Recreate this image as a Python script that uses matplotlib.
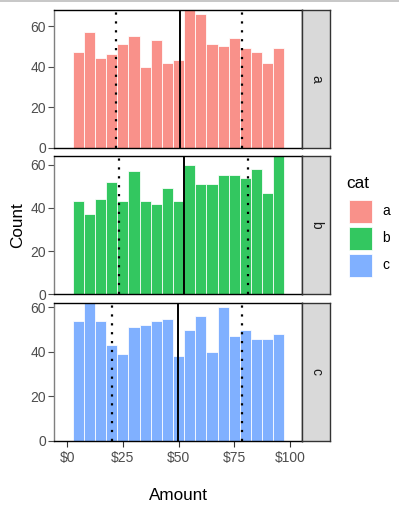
import matplotlib
matplotlib.use("Agg")
import matplotlib.pyplot as plt
from matplotlib.patches import Rectangle
from matplotlib.lines import Line2D

plt.rcParams['font.family'] = ['Liberation Sans', 'DejaVu Sans']
plt.rcParams['text.parse_math'] = False

# histogram bins (centres) and counts per category
bin_centers = [5, 10, 15, 20, 25, 30, 35, 40, 45, 50, 55, 60, 65, 70, 75, 80, 85, 90, 95]
cats = ['a', 'b', 'c']
counts_a = [47, 57, 44, 46, 51, 55, 40, 53, 42, 43, 68, 66, 51, 50, 54, 49, 47, 42, 49]
counts_b = [43, 37, 44, 52, 43, 57, 43, 42, 49, 43, 60, 51, 51, 55, 55, 54, 58, 47, 64]
counts_c = [54, 62, 54, 43, 39, 51, 52, 54, 55, 38, 50, 56, 40, 60, 47, 50, 46, 46, 48]

# reference lines: lower dotted, solid centre, upper dotted
low_lines = [21.9, 23.4, 20.2]
mid_lines = [50.6, 52.5, 49.6]
high_lines = [78.6, 81.3, 78.6]

x_ticks = [0, 25, 50, 75, 100]
x_labels = ['$0', '$25', '$50', '$75', '$100']
y_ticks = [0, 20, 40, 60]

colors = ['#F8766D', '#00BA38', '#619CFF']
all_counts = [counts_a, counts_b, counts_c]

W, H = 399, 512
fig = plt.figure(figsize=(W / 100, H / 100), dpi=100)

# thin grey line along the top edge
fig.add_artist(Line2D([0, 1], [1 - 1.2 / H, 1 - 1.2 / H], color='#BDBDBD', lw=1.2))

left, right = 54.3, 302.3
strip_r = 330.0
panel_tops = [9.8, 156.0, 303.0]
panel_bottoms = [147.7, 294.3, 441.0]

for i, cat in enumerate(cats):
    top, bot = panel_tops[i], panel_bottoms[i]
    ax = fig.add_axes([left / W, 1 - bot / H, (right - left) / W, (bot - top) / H])
    ax.bar(bin_centers, all_counts[i], width=5, color=colors[i], alpha=0.8,
           edgecolor='white', linewidth=0.7, zorder=2)
    ax.axvline(low_lines[i], color='black', lw=1.6, linestyle=(0, (1, 3)), zorder=3)
    ax.axvline(mid_lines[i], color='black', lw=1.4, zorder=3)
    ax.axvline(high_lines[i], color='black', lw=1.6, linestyle=(0, (1, 3)), zorder=3)
    ax.set_xlim(-5.8, 105.5)
    ax.set_ylim(0, max(all_counts[i]))
    ax.set_yticks(y_ticks)
    ax.set_xticks(x_ticks)
    if i == 2:
        ax.set_xticklabels(x_labels)
    else:
        ax.set_xticklabels([])
        ax.tick_params(axis='x', length=0)
    ax.tick_params(axis='y', length=4, width=0.8, color='#4D4D4D', pad=2,
                   labelsize=10, labelcolor='#4D4D4D')
    ax.tick_params(axis='x', width=0.8, color='#333333', labelsize=10,
                   labelcolor='#4D4D4D', pad=3)
    if i == 2:
        ax.tick_params(axis='x', length=4)
    for s in ['top', 'right', 'bottom']:
        ax.spines[s].set_color('black')
        ax.spines[s].set_linewidth(1.0)
    ax.spines['left'].set_color('#7F7F7F')
    ax.spines['left'].set_linewidth(1.0)

    # facet strip on the right
    sax = fig.add_axes([right / W, 1 - bot / H, (strip_r - right) / W, (bot - top) / H])
    sax.set_facecolor('#D9D9D9')
    sax.set_xticks([])
    sax.set_yticks([])
    for s in sax.spines.values():
        s.set_color('#333333')
        s.set_linewidth(1.0)
    sax.text(0.5, 0.5, cat, rotation=-90, ha='center', va='center',
             fontsize=10, color='#1A1A1A', transform=sax.transAxes)

# axis titles
fig.text(178.3 / W, 1 - 495 / H, 'Amount', ha='center', va='center', fontsize=12.3, color='black')
fig.text(17.7 / W, 1 - 225.5 / H, 'Count', ha='center', va='center', rotation=90,
         fontsize=12.3, color='black')

# legend
fig.text(346.5 / W, 1 - 183 / H, 'cat', ha='left', va='center', fontsize=12.3, color='black')
for i, cat in enumerate(cats):
    ytop = 199.5 + 27.2 * i
    fig.add_artist(Rectangle((349 / W, 1 - (ytop + 23) / H), 23.3 / W, 23 / H,
                             facecolor=colors[i], alpha=0.8, edgecolor='white',
                             linewidth=0.7, transform=fig.transFigure))
    fig.text(382 / W, 1 - (ytop + 11.5) / H, cat, ha='left', va='center',
             fontsize=10, color='black')

fig.savefig('out.png', dpi=100)
